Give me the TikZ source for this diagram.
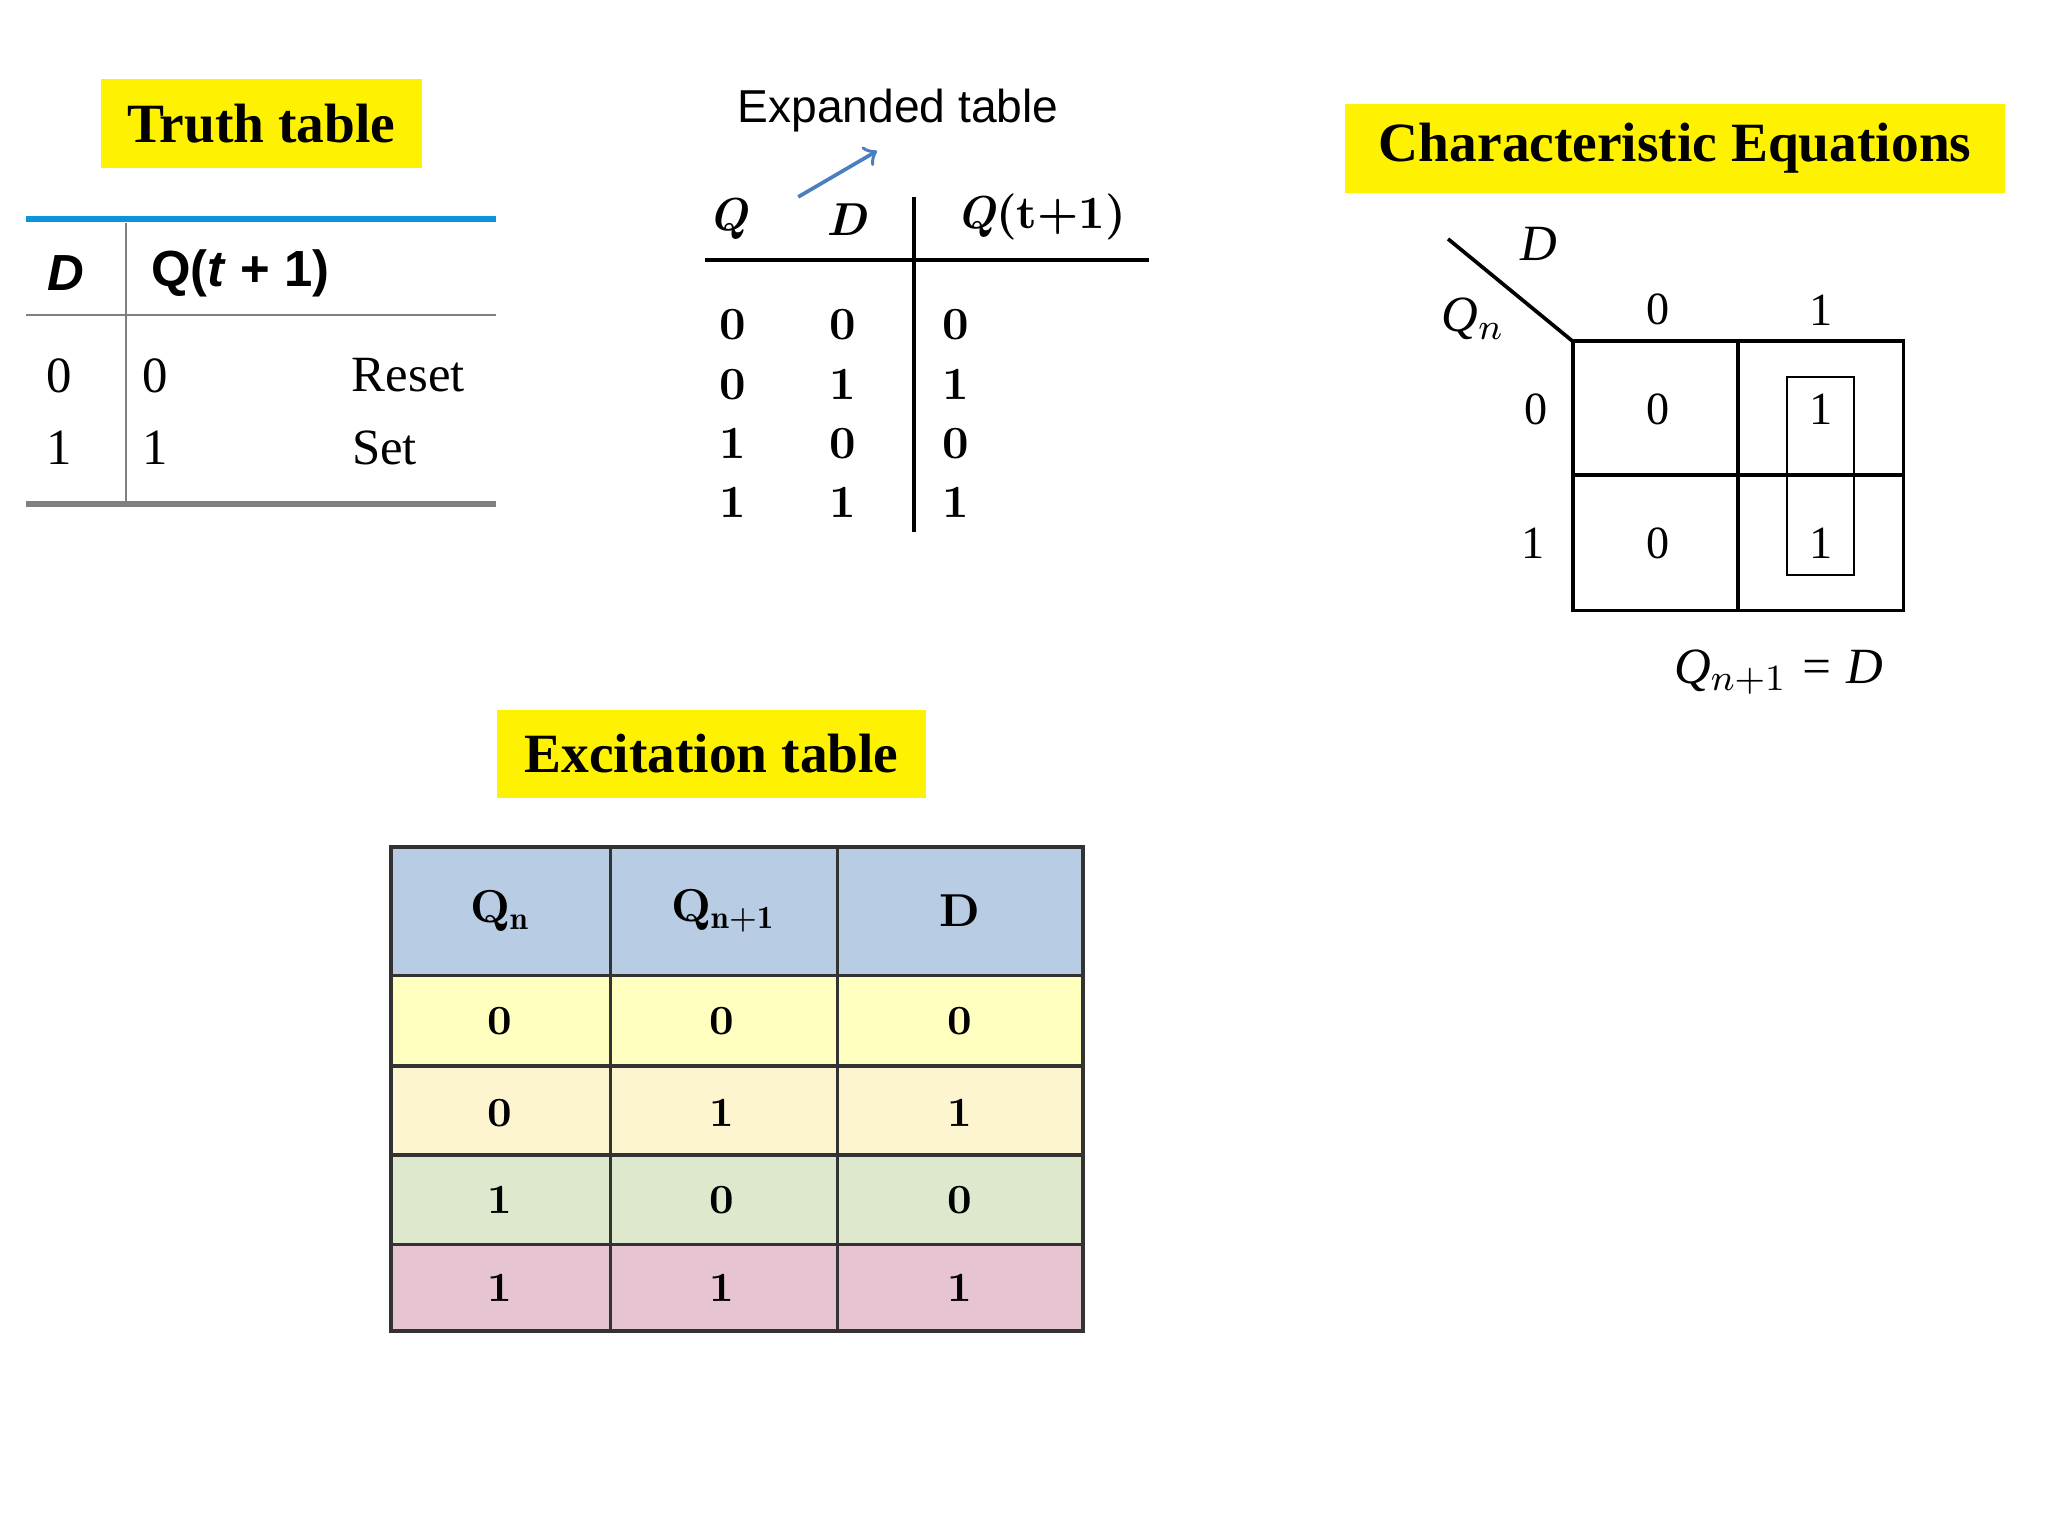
\documentclass[tikz,border=0pt]{standalone}
\usepackage{fontspec}
\newfontfamily\arialf{Liberation Sans}
\newfontfamily\timesf{Liberation Serif}
\definecolor{hdr}{HTML}{B8CCE4}
\definecolor{r1}{HTML}{FFFFC0}
\definecolor{r2}{HTML}{FDF5CF}
\definecolor{r3}{HTML}{DDE8CD}
\definecolor{r4}{HTML}{E6C4D2}
\definecolor{arr}{HTML}{4A7EC0}
\begin{document}
\begin{tikzpicture}[x=0.01cm,y=-0.01cm,
  ylab/.style={fill=yellow,inner sep=0pt,font=\timesf\bfseries\fontsize{12}{14}\selectfont},
  tt/.style={font=\timesf\fontsize{11}{13}\selectfont},
  et/.style={font=\fontsize{10}{12}\selectfont\bfseries},
  km/.style={font=\timesf\fontsize{10}{12}\selectfont}]
\useasboundingbox (0,0) rectangle (1560,1170);
% Truth table
\node[ylab,minimum height=0.68cm,minimum width=2.44cm] (tth) at (199,94) {Truth table};
\draw[line width=1.3pt,cyan!80!blue] (20,167) -- (378,167);
\draw[gray] (20,240) -- (378,240);
\draw[gray] (96,170) -- (96,382);
\draw[line width=1.3pt,gray] (20,384) -- (378,384);
\node[font=\arialf\bfseries\itshape\fontsize{11}{13}\selectfont] (td) at (50,208) {D};
\node[font=\arialf\bfseries\fontsize{11}{13}\selectfont] (tq) at (183,208) {Q(\textit{t} + 1)};
\node[tt] at (45,286) {0}; \node[tt] at (118,286) {0}; \node[tt] at (311,286) {Reset};
\node[tt] at (45,341) {1}; \node[tt] at (118,341) {1}; \node[tt] at (293,341) {Set};
% Expanded table
\node[font=\arialf\fontsize{10}{12}\selectfont] (exl) at (684,84) {Expanded table};
\coordinate (ea) at (608,150);
\coordinate (eb) at (668,115);
\draw[->,thick,arr] (ea) -- (eb);
\node[font=\itshape\bfseries\fontsize{10}{12}\selectfont] at (555,167) {Q};
\node[font=\itshape\bfseries\fontsize{10}{12}\selectfont] at (645,167) {D};
\node[font=\bfseries\fontsize{10}{12}\selectfont] at (793,165) {\textit{Q}(t+1)};
\draw[thick] (537,198) -- (875,198);
\draw[thick] (696,150) -- (696,405);
\foreach \y/\a/\b/\c in {247/0/0/0,293/0/1/1,338/1/0/0,383/1/1/1}{
  \node[et] at (558,\y) {\a}; \node[et] at (642,\y) {\b}; \node[et] at (728,\y) {\c};}
% Characteristic
\node[ylab,minimum width=5.02cm,minimum height=0.68cm] (ceq) at (1276,113) {Characteristic Equations};
\draw[thick] (1198,260) rectangle (1450,465);
\draw[thick] (1324,260) -- (1324,465);
\draw[thick] (1198,362) -- (1450,362);
\draw[thick] (1103,182) -- (1198,260);
\draw (1361,287) rectangle (1412,438);
\node[font=\timesf\itshape\fontsize{11}{13}\selectfont] at (1172,186) {D};
\node[font=\timesf\itshape\fontsize{11}{13}\selectfont] at (1122,243) {Q$_n$};
\node[km] at (1263,236) {0}; \node[km] at (1387,236) {1};
\node[km] at (1170,312) {0}; \node[km] at (1168,414) {1};
\node[km] at (1263,312) {0}; \node[km] at (1387,312) {1};
\node[km] at (1263,414) {0}; \node[km] at (1387,414) {1};
\node[font=\timesf\itshape\fontsize{11}{13}\selectfont] at (1355,512) {Q$_{n+1}$ = D};
% Excitation
\node[ylab,minimum width=3.27cm,minimum height=0.67cm] (exc) at (542,574) {Excitation table};
\fill[hdr] (298,645) rectangle (825,743);
\fill[r1] (298,743) rectangle (825,812);
\fill[r2] (298,812) rectangle (825,880);
\fill[r3] (298,880) rectangle (825,948);
\fill[r4] (298,948) rectangle (825,1014);
\draw[thick,gray!40!black] (298,645) rectangle (825,1014);
\foreach \x in {465,638} \draw[thick,gray!40!black] (\x,645) -- (\x,1014);
\foreach \y in {743,812,880,948} \draw[thick,gray!40!black] (298,\y) -- (825,\y);
\node[font=\bfseries\fontsize{10}{12}\selectfont] at (381,694) {Q$_{\mathbf n}$};
\node[font=\bfseries\fontsize{10}{12}\selectfont] at (551,694) {Q$_{\mathbf{n+1}}$};
\node[font=\bfseries\fontsize{10}{12}\selectfont] at (731,694) {D};
\foreach \y/\a/\b/\c in {778/0/0/0,848/0/1/1,914/1/0/0,981/1/1/1}{
  \node[font=\bfseries\fontsize{9}{11}\selectfont] at (381,\y) {\a};
  \node[font=\bfseries\fontsize{9}{11}\selectfont] at (550,\y) {\b};
  \node[font=\bfseries\fontsize{9}{11}\selectfont] at (731,\y) {\c};}
\end{tikzpicture}
\end{document}
